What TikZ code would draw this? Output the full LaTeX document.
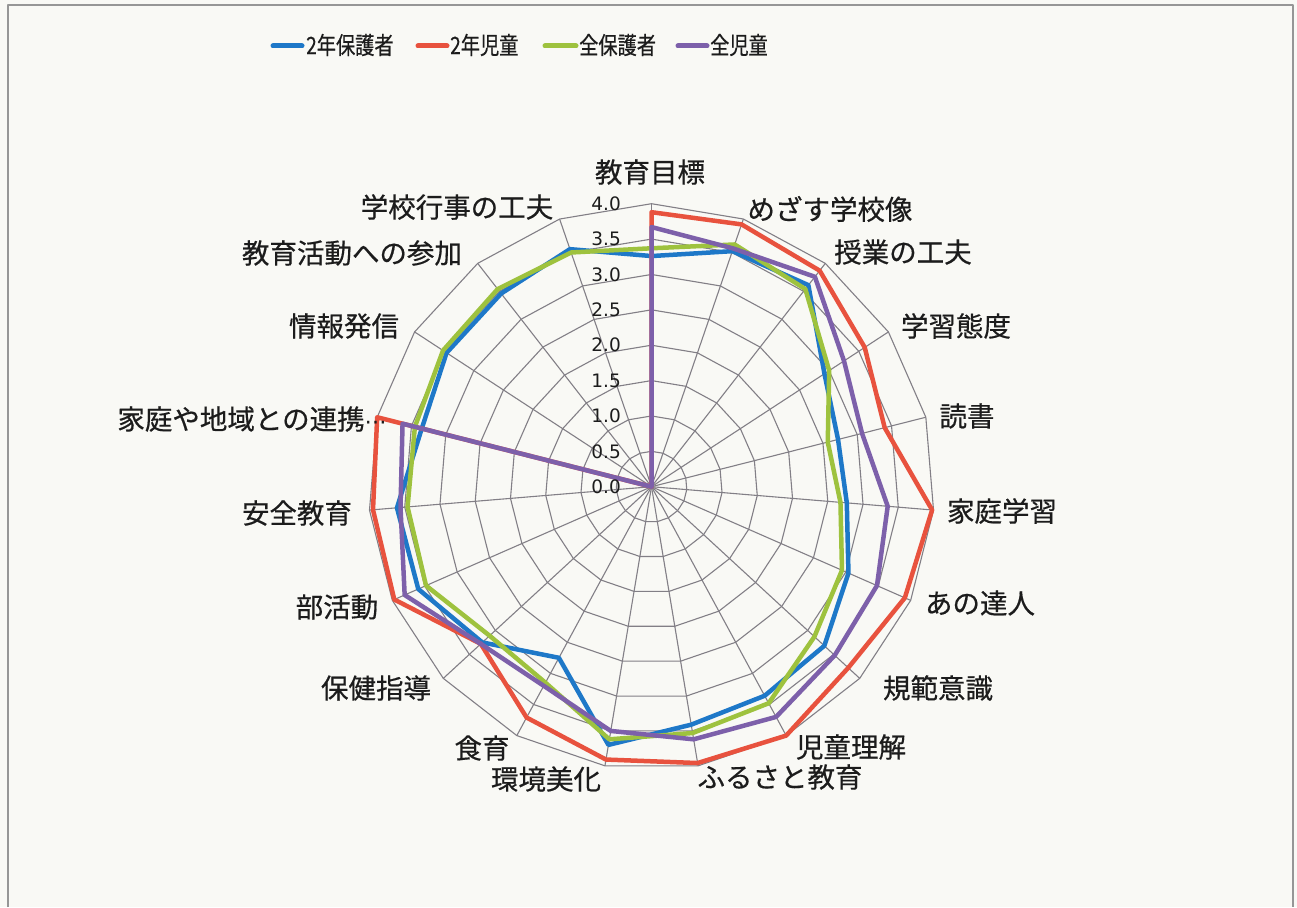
\documentclass[tikz,border=0pt]{standalone}
\usepackage{fontspec}
\newfontfamily\jp[FakeBold=0.5]{Noto Sans CJK JP}
\newfontfamily\numfont{DejaVu Sans}
\definecolor{bgcol}{RGB}{249,249,245}
\definecolor{framegray}{RGB}{150,150,150}
\definecolor{gridgray}{RGB}{130,127,134}
\definecolor{labelblack}{RGB}{28,28,28}
\definecolor{serblue}{RGB}{30,120,200}
\definecolor{serred}{RGB}{232,82,62}
\definecolor{sergreen}{RGB}{158,194,62}
\definecolor{serpurple}{RGB}{125,96,170}
\newcommand{\legtxt}[1]{\scalebox{0.8}[1.0]{\jp\fontsize{24}{24}\selectfont #1}}
\begin{document}
\begin{tikzpicture}[x=1pt,y=-1pt,line join=round,
  grid/.style={draw=gridgray,line width=1.1pt},
  ser/.style={line width=4.5pt,line join=round,line cap=round},
  axlab/.style={font=\jp\fontsize{27.5}{28}\selectfont,text=labelblack,inner sep=0pt},
  tick/.style={font=\numfont\fontsize{18.5}{18.5}\selectfont,anchor=east,inner sep=0pt,text=labelblack},
  legtext/.style={anchor=west,inner sep=0pt,text=labelblack},
  legline/.style={line width=5pt,line cap=round}]
\fill[bgcol] (0,0) rectangle (1297,907);
\useasboundingbox (0,0) rectangle (1297,907);
\draw[framegray,line width=1.5pt] (8,907) -- (8,5) -- (1293,5) -- (1293,907);

\coordinate (O) at (651.5,486.7);

% rings
\foreach \r in {1,...,8}{
  \draw[grid] plot[samples at={0,...,18}] ({651.5+35.375*\r*sin(\x*360/19)},{486.7-35.375*\r*cos(\x*360/19)}) -- cycle;
}
% spokes
\foreach \k in {0,...,18}{
  \coordinate (S\k) at ({651.5+283*sin(\k*360/19)},{486.7-283*cos(\k*360/19)});
  \draw[grid] (O) -- (S\k);
}

% data points
\foreach \k/\b/\r/\g/\p in {
 0/3.26/3.88/3.37/3.67,
 1/3.52/3.92/3.62/3.56,
 2/3.61/3.87/3.54/3.76,
 3/2.92/3.60/3.00/3.25,
 4/2.72/3.40/2.57/3.07,
 5/2.77/3.98/2.68/3.35,
 6/3.04/3.91/2.94/3.48,
 7/3.32/3.78/3.13/3.52,
 8/3.36/4.00/3.48/3.70,
 9/3.41/3.96/3.53/3.62,
 10/3.70/3.91/3.62/3.50,
 11/2.75/3.71/3.15/3.20,
 12/3.25/3.28/3.11/3.28,
 13/3.60/3.97/3.48/3.81,
 14/3.61/3.95/3.46/3.56,
 15/3.35/4.00/3.45/3.63,
 16/3.46/0/3.52/0,
 17/3.46/0/3.54/0,
 18/3.55/0/3.50/0}{
  \coordinate (B\k) at ({651.5+70.75*\b*sin(\k*360/19)},{486.7-70.75*\b*cos(\k*360/19)});
  \coordinate (R\k) at ({651.5+70.75*\r*sin(\k*360/19)},{486.7-70.75*\r*cos(\k*360/19)});
  \coordinate (G\k) at ({651.5+70.75*\g*sin(\k*360/19)},{486.7-70.75*\g*cos(\k*360/19)});
  \coordinate (P\k) at ({651.5+70.75*\p*sin(\k*360/19)},{486.7-70.75*\p*cos(\k*360/19)});
}

\draw[ser,serblue] (B0) \foreach \k in {1,...,18}{ -- (B\k)} -- cycle;
\draw[ser,serred] (R0) \foreach \k in {1,...,18}{ -- (R\k)} -- cycle;
\draw[ser,sergreen] (G0) \foreach \k in {1,...,18}{ -- (G\k)} -- cycle;
\draw[ser,serpurple] (P0) \foreach \k in {1,...,18}{ -- (P\k)} -- cycle;

% tick labels
\foreach \i/\t in {0/0.0,1/0.5,2/1.0,3/1.5,4/2.0,5/2.5,6/3.0,7/3.5,8/4.0}{
  \node[tick] (t\i) at (621,{486.7-35.375*\i}) {\t};
}

% axis labels
\node[axlab] (l0) at (650,172) {教育目標};
\node[axlab] (l1) at (830,209) {めざす学校像};
\node[axlab] (l2) at (903,252) {授業の工夫};
\node[axlab] (l3) at (956,326) {学習態度};
\node[axlab] (l4) at (967,416) {読書};
\node[axlab] (l5) at (1002,511) {家庭学習};
\node[axlab] (l6) at (980,603) {あの達人};
\node[axlab] (l7) at (938,688) {規範意識};
\node[axlab] (l8) at (851,747) {児童理解};
\node[axlab] (l9) at (780,777) {ふるさと教育};
\node[axlab] (l10) at (546,779) {環境美化};
\node[axlab] (l11) at (482,748) {食育};
\node[axlab] (l12) at (376,688) {保健指導};
\node[axlab] (l13) at (337,607) {部活動};
\node[axlab] (l14) at (297,513) {安全教育};
\node[axlab] (l15) at (252,419) {家庭や地域との連携{\numfont\fontsize{22}{22}\selectfont ⋯}};
\node[axlab] (l16) at (344,326) {情報発信};
\node[axlab] (l17) at (352,253) {教育活動への参加};
\node[axlab] (l18) at (457,207) {学校行事の工夫};

% legend
\coordinate (lb1) at (273,46); \coordinate (lb2) at (302,46);
\coordinate (lr1) at (418,46); \coordinate (lr2) at (447,46);
\coordinate (lg1) at (545,46); \coordinate (lg2) at (576,46);
\coordinate (lp1) at (678,46); \coordinate (lp2) at (707,46);
\draw[legline,serblue] (lb1) -- (lb2);
\draw[legline,serred] (lr1) -- (lr2);
\draw[legline,sergreen] (lg1) -- (lg2);
\draw[legline,serpurple] (lp1) -- (lp2);
\node[legtext] (k1) at (306,45) {\legtxt{2年保護者}};
\node[legtext] (k2) at (450,45) {\legtxt{2年児童}};
\node[legtext] (k3) at (579,45) {\legtxt{全保護者}};
\node[legtext] (k4) at (710,45) {\legtxt{全児童}};
\end{tikzpicture}
\end{document}
